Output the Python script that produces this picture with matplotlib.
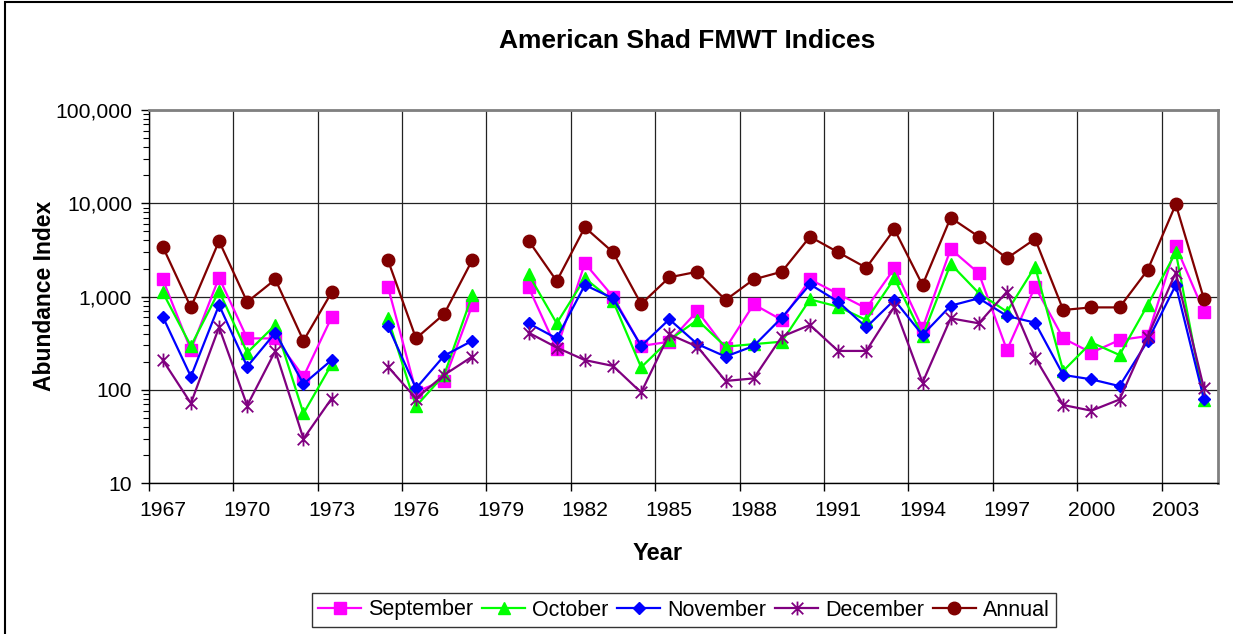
import numpy as np
import matplotlib
matplotlib.use('Agg')
import matplotlib.pyplot as plt
from matplotlib.path import Path
from matplotlib.patches import Rectangle
from matplotlib.ticker import FixedLocator, FuncFormatter, LogLocator, NullFormatter

plt.rcParams['font.family'] = ['Liberation Sans', 'DejaVu Sans']

nan = np.nan
years = list(range(1967, 2005))
# no survey indices for 1974 and 1979
september = [1530, 268, 1600, 357, 357, 139, 600, nan, 1280, 96, 126, 813, nan,
             1260, 275, 2280, 1000, 296, 329, 702, 279, 828, 562, 1530, 1070,
             750, 2010, 458, 3240, 1780, 268, 1280, 357, 251, 343, 378, 3490, 690]
october = [1110, 296, 1150, 251, 497, 56, 188, nan, 586, 67, 145, 1040, nan,
           1730, 518, 1570, 900, 175, 343, 562, 291, 310, 329, 935, 781,
           562, 1570, 378, 2240, 1090, 690, 2100, 160, 323, 237, 813, 2990, 79]
november = [610, 139, 813, 178, 411, 116, 209, nan, 485, 104, 233, 337, nan,
            518, 357, 1333, 960, 296, 572, 310, 228, 296, 596, 1355, 884,
            470, 920, 388, 800, 960, 621, 526, 145, 130, 110, 335, 1333, 80]
december = [209, 72, 470, 68, 262, 30, 81, nan, 178, 81, 145, 228, nan,
            411, 285, 209, 181, 94, 395, 291, 125, 133, 373, 497, 262,
            262, 780, 120, 586, 518, 1130, 222, 69, 60, 79, 373, 1810, 104]
annual = [3430, 767, 3940, 877, 1530, 337, 1110, nan, 2470, 357, 652, 2470, nan,
          3980, 1470, 5530, 2990, 833, 1610, 1850, 920, 1530, 1850, 4390, 2990,
          2040, 5260, 1333, 7010, 4390, 2580, 4150, 720, 767, 767, 1930, 9750, 945]
labels = ['September', 'October', 'November', 'December', 'Annual']

# asterisk marker: an X with a vertical bar through it
star = Path([(-0.5, -0.5), (0.5, 0.5), (-0.5, 0.5), (0.5, -0.5), (0, -0.6), (0, 0.6)],
            [Path.MOVETO, Path.LINETO, Path.MOVETO, Path.LINETO, Path.MOVETO, Path.LINETO])

styles = [
    dict(color='#FF00FF', marker='s', ms=8),
    dict(color='#00FF00', marker='^', ms=9),
    dict(color='#0000FF', marker='D', ms=6),
    dict(color='#800080', marker=star, ms=10, mew=1.3, mfc='none'),
    dict(color='#800000', marker='o', ms=9),
]

fig = plt.figure(figsize=(12.33, 6.34), dpi=100)
ax = fig.add_axes([148.7 / 1233, 1 - 483.3 / 634, (1218 - 148.7) / 1233, (483.3 - 110) / 634])

for vals, lab, st in zip([september, october, november, december, annual], labels, styles):
    ax.plot(years, vals, lw=1.6, label=lab, **st)

ax.set_yscale('log')
ax.set_ylim(10, 100000)
ax.set_xlim(1966.5, 2004.5)

ax.yaxis.set_major_locator(LogLocator(base=10, numticks=10))
ax.yaxis.set_minor_locator(LogLocator(base=10, subs=np.arange(2, 10), numticks=10))
ax.yaxis.set_major_formatter(FuncFormatter(lambda v, p: '{:,.0f}'.format(v)))
ax.yaxis.set_minor_formatter(NullFormatter())

# ticks on category boundaries, labels on every third category
ax.xaxis.set_major_locator(FixedLocator(np.arange(1966.5, 2004, 3)))
ax.xaxis.set_major_formatter(NullFormatter())
ax.xaxis.set_minor_locator(FixedLocator(years[::3]))
ax.xaxis.set_minor_formatter(FuncFormatter(lambda v, p: '%d' % v))

ax.tick_params(axis='x', which='major', direction='out', length=6, width=1, color='black')
ax.tick_params(axis='x', which='minor', length=0, pad=13, labelsize=15.2)
ax.tick_params(axis='y', which='major', direction='out', length=6, width=1, pad=6, labelsize=15.2)
ax.tick_params(axis='y', which='minor', direction='out', length=4, width=0.8)

ax.grid(True, which='major', axis='both', color='#222222', lw=0.9)
ax.set_axisbelow(True)

for s in ['top', 'right']:
    ax.spines[s].set_color('#808080')
    ax.spines[s].set_linewidth(2)
for s in ['left', 'bottom']:
    ax.spines[s].set_color('black')
    ax.spines[s].set_linewidth(1)

fig.text(687 / 1233, 1 - 41 / 634, 'American Shad FMWT Indices', ha='center', va='center',
         fontsize=19, fontweight='bold')
fig.text(45 / 1233, 1 - 296 / 634, 'Abundance Index', ha='center', va='center',
         rotation=90, fontsize=16.5, fontweight='bold')
fig.text(658 / 1233, 1 - 553 / 634, 'Year', ha='center', va='center',
         fontsize=17, fontweight='bold')

leg = fig.legend(loc='center', bbox_to_anchor=(684 / 1233, 1 - 610 / 634), ncol=5,
                 fontsize=15.5, handlelength=2.0, handletextpad=0.33, columnspacing=0.4,
                 borderpad=0.3, borderaxespad=0, frameon=True, fancybox=False)
leg.get_frame().set_edgecolor('black')
leg.get_frame().set_linewidth(1)

# chart border, running off the right and bottom edges
fig.add_artist(Rectangle((5 / 1233, -0.1), 1.2, 1.1 - 2 / 634, transform=fig.transFigure,
                         fill=False, edgecolor='black', lw=1.5))

fig.savefig('out.png', dpi=100)
